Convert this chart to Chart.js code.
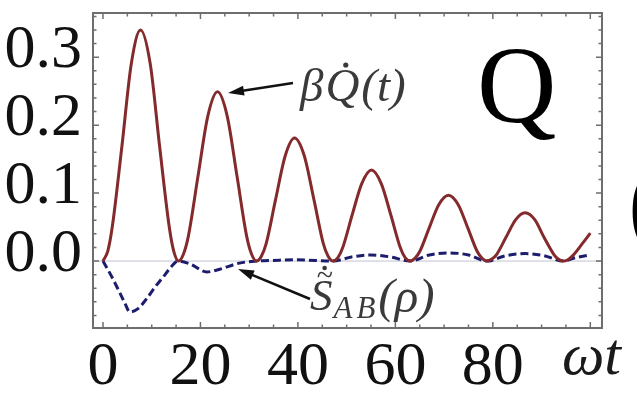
<!DOCTYPE html>
<html>
<head>
<meta charset="utf-8">
<script src="https://cdn.jsdelivr.net/npm/chart.js@4.4.1/dist/chart.umd.min.js"></script>
<style>
  html, body { margin: 0; padding: 0; background: #fff; }
</style>
</head>
<body>
<canvas id="grafica" width="637" height="397"></canvas>
<script>
// valores
const tQ = [0, 1.0, 1.9, 3.9, 5.8, 7.7, 9.7, 11.6, 13.6, 14.5, 15.5,
            16.5, 17.5, 19.5, 21.5, 23.5, 25.5, 27.5, 29.5, 30.5, 31.5,
            32.5, 33.5, 35.4, 37.4, 39.3, 41.3, 43.3, 45.2, 46.2, 47.2,
            48.2, 49.2, 51.1, 53.1, 55.1, 57.1, 59.1, 61.0, 62.0, 63.0,
            64.0, 65.0, 66.9, 68.9, 70.9, 72.9, 74.9, 76.8, 77.8, 78.8,
            79.8, 80.8, 82.7, 84.7, 86.6, 88.6, 90.5, 92.5, 93.4, 94.4,
            95.4, 96.4, 98.4, 100]
const calorQ = [0, 0.015, 0.050, 0.170, 0.290, 0.340, 0.290, 0.170, 0.050, 0.015, 0,
                0.010, 0.036, 0.125, 0.213, 0.249, 0.213, 0.125, 0.036, 0.010, 0,
                0.007, 0.026, 0.090, 0.155, 0.181, 0.155, 0.090, 0.026, 0.007, 0,
                0.005, 0.020, 0.067, 0.114, 0.134, 0.114, 0.067, 0.020, 0.005, 0,
                0.004, 0.014, 0.048, 0.083, 0.097, 0.083, 0.048, 0.014, 0.004, 0,
                0.003, 0.010, 0.035, 0.061, 0.071, 0.061, 0.035, 0.010, 0.003, 0,
                0.002, 0.008, 0.026, 0.041]

const tS = [0, 1.8, 3.2, 4.5, 5.5, 7.2, 9.0, 10.7, 12.4, 13.7, 15.4,
            17.8, 21.3, 24, 28, 31.5, 35, 39.3, 43.5, 47.2,
            51, 55, 59, 63, 67, 71, 75, 78.8, 82.7, 86.6, 90.5, 94.4, 97, 100]
const entropiaS = [0, -0.023, -0.043, -0.062, -0.075, -0.070, -0.055, -0.038, -0.023, -0.011, 0,
                   -0.004, -0.016, -0.012, -0.003, 0, 0.001, 0.002, 0.001, 0,
                   0.006, 0.009, 0.006, 0, 0.009, 0.012, 0.009, 0, 0.008, 0.011, 0.008, 0, 0.005, 0.009]

const xTicks = [0, 20, 40, 60, 80]
const yTicks = [0, 0.1, 0.2, 0.3]

const serif = '"Liberation Serif", "DejaVu Serif", serif'

let flecha = (ctx, x1, y1, x2, y2) => {
    let ang = Math.atan2(y2 - y1, x2 - x1)
    ctx.beginPath()
    ctx.moveTo(x1, y1)
    ctx.lineTo(x2 - 10 * Math.cos(ang), y2 - 10 * Math.sin(ang))
    ctx.stroke()
    ctx.beginPath()
    ctx.moveTo(x2, y2)
    ctx.lineTo(x2 - 16 * Math.cos(ang) + 5 * Math.sin(ang), y2 - 16 * Math.sin(ang) - 5 * Math.cos(ang))
    ctx.lineTo(x2 - 16 * Math.cos(ang) - 5 * Math.sin(ang), y2 - 16 * Math.sin(ang) + 5 * Math.cos(ang))
    ctx.closePath()
    ctx.fill()
}

const marcas = {
    id: 'marcas',
    beforeDatasetsDraw(chart) {
        const {ctx, chartArea: a, scales: {y}} = chart
        ctx.save()
        ctx.strokeStyle = '#c2c2d2'
        ctx.lineWidth = 1
        let y0 = y.getPixelForValue(0)
        ctx.beginPath()
        ctx.moveTo(a.left, y0)
        ctx.lineTo(a.right, y0)
        ctx.stroke()
        ctx.restore()
    },
    afterDraw(chart) {
        const {ctx, chartArea: a, scales: {x, y}} = chart
        ctx.save()
        // marco
        ctx.strokeStyle = '#6e6e6e'
        ctx.lineWidth = 2
        ctx.strokeRect(a.left, a.top, a.right - a.left, a.bottom - a.top)
        // ticks hacia dentro, los cuatro lados
        ctx.lineWidth = 1.5
        ctx.beginPath()
        for (let v = 0; v <= 100; v += 5) {
            let px = x.getPixelForValue(v)
            let l = v % 20 === 0 ? 6 : 3.5
            ctx.moveTo(px, a.bottom); ctx.lineTo(px, a.bottom - l)
            ctx.moveTo(px, a.top); ctx.lineTo(px, a.top + l)
        }
        for (let k = -4; k <= 18; k++) {
            let py = y.getPixelForValue(k * 0.02)
            let l = k % 5 === 0 ? 6 : 3.5
            ctx.moveTo(a.left, py); ctx.lineTo(a.left + l, py)
            ctx.moveTo(a.right, py); ctx.lineTo(a.right - l, py)
        }
        ctx.stroke()

        // flechas
        ctx.strokeStyle = '#111'
        ctx.fillStyle = '#111'
        ctx.lineWidth = 2.5
        flecha(ctx, 293, 83, 228, 93)
        flecha(ctx, 310, 299, 238, 269)

        // etiqueta beta Q punto
        ctx.fillStyle = '#3a3a3a'
        ctx.textBaseline = 'alphabetic'
        ctx.textAlign = 'left'
        ctx.font = 'italic 47px ' + serif
        let px = 300, base = 101
        ctx.fillText('β', px, base)
        px += ctx.measureText('β').width + 2
        ctx.fillText('Q', px, base)
        let wq = ctx.measureText('Q').width
        ctx.beginPath()
        ctx.arc(px + wq * 0.6, 65, 2.6, 0, Math.PI * 2)
        ctx.fill()
        px += wq + 2
        ctx.fillText('(t)', px, base)

        // etiqueta S
        px = 310; base = 310
        ctx.font = 'italic 45px ' + serif
        ctx.fillText('S', px, base)
        let ws = ctx.measureText('S').width
        ctx.font = '30px ' + serif
        ctx.fillText('~', px + ws * 0.3, 285)
        ctx.beginPath()
        ctx.arc(px + ws * 0.65, 268, 2.3, 0, Math.PI * 2)
        ctx.fill()
        px += ws + 1
        ctx.font = 'italic 31px ' + serif
        ctx.fillText('A', px, 318)
        px += ctx.measureText('A').width + 4
        ctx.fillText('B', px, 318)
        px += ctx.measureText('B').width + 3
        ctx.font = 'italic 49px ' + serif
        ctx.fillText('(ρ)', px, base + 2)

        // letra Q grande
        ctx.fillStyle = '#000'
        ctx.font = '110px ' + serif
        ctx.fillText('Q', 477, 122)

        // eje x
        ctx.font = 'italic 60px ' + serif
        ctx.fillStyle = '#1a1a1a'
        ctx.fillText('ωt', 562, 374)

        // trozo del panel vecino
        ctx.fillStyle = '#000'
        ctx.font = 'bold 105px ' + serif
        ctx.fillText('(', 628, 237)
        ctx.restore()
    }
}

new Chart(document.getElementById('grafica'), {
    type: 'line',
    data: {
        datasets: [
            {
                label: 'calor',
                data: tQ.map((t, i) => ({x: t, y: calorQ[i]})),
                borderColor: '#842a2c',
                borderWidth: 3,
                pointRadius: 0,
                cubicInterpolationMode: 'monotone',
                fill: false
            },
            {
                label: 'entropia',
                data: tS.map((t, i) => ({x: t, y: entropiaS[i]})),
                borderColor: '#1d1d6e',
                borderWidth: 3,
                borderDash: [8, 4],
                pointRadius: 0,
                cubicInterpolationMode: 'monotone',
                fill: false
            }
        ]
    },
    options: {
        responsive: false,
        animation: false,
        layout: {autoPadding: false, padding: {left: 0, top: 13, right: 35, bottom: 0}},
        plugins: {legend: {display: false}, tooltip: {enabled: false}},
        scales: {
            x: {
                type: 'linear',
                min: -2.05,
                max: 102.4,
                grid: {display: false, drawTicks: false},
                border: {display: false},
                afterBuildTicks: s => { s.ticks = xTicks.map(v => ({value: v})) },
                afterFit: s => { s.height = 69; s.paddingLeft = 0; s.paddingRight = 0 },
                ticks: {font: {family: serif, size: 62}, color: '#111', padding: 3, maxRotation: 0}
            },
            y: {
                type: 'linear',
                min: -0.0985,
                max: 0.365,
                grid: {display: false, drawTicks: false},
                border: {display: false},
                afterBuildTicks: s => { s.ticks = yTicks.map(v => ({value: v})) },
                afterFit: s => { s.width = 93; s.paddingTop = 0; s.paddingBottom = 0 },
                ticks: {font: {family: serif, size: 62, lineHeight: 0.2}, color: '#111', padding: 11,
                        callback: v => [v.toFixed(1), '']}
            }
        }
    },
    plugins: [marcas]
})
</script>
</body>
</html>
